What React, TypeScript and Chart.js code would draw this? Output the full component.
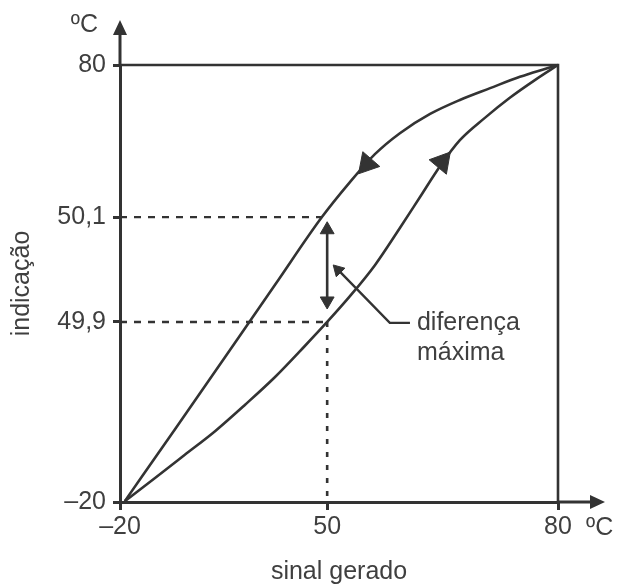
import { useEffect, useRef } from 'react';
import { Chart, registerables } from 'chart.js';

Chart.register(...registerables);

// Axis ticks (schematic positions, real labels)
const xTickValues = [-20, 27.3, 80];
const xTickLabels = ['–20', '50', '80'];
const yTickValues = [-20, 21.2, 45.2, 80];
const yTickLabels = ['–20', '49,9', '50,1', '80'];

// Descending branch (upper curve, returning from 80)
const returnX = [-18.9, -7.4, 4.0, 15.4, 26.1, 32.5, 38.2, 43.9, 50.8, 57.6, 64.5, 71.3, 77.0, 80];
const returnY = [-19.8, -3.3, 13.2, 29.7, 45.2, 53.2, 59.6, 64.4, 68.8, 72.0, 74.7, 77.3, 79.1, 80];

// Ascending branch (lower curve)
const riseX = [-18.9, -12.0, -5.2, 1.7, 8.5, 15.4, 22.2, 27.3, 32.5, 38.2, 43.9, 48.5, 53.1, 57.6, 63.3, 69.0, 74.8, 80];
const riseY = [-19.8, -14.5, -9.2, -3.8, 2.2, 8.6, 15.7, 21.2, 27.1, 34.2, 42.7, 49.8, 56.9, 62.8, 67.9, 72.5, 76.6, 80];

// Direction arrows on the curves
const curveArrowX = [36.4, 53.5];
const curveArrowY = [57.35, 57.8];
const curveArrowRotation = [221, 40];

// Range frame (top line at 80 and right line at 80)
const frameX = [-20, 80, 80];
const frameY = [80, 80, -20];

// Reference guides
const guide501X = [-20, 26.1];
const guide501Y = [45.2, 45.2];
const guide499X = [-20, 27.3];
const guide499Y = [21.2, 21.2];
const guide50X = [27.3, 27.3];
const guide50Y = [21.2, -20];

// Maximum-difference double arrow
const diffArrowX = [27.3, 27.3];
const diffArrowY = [42.3, 26.0];

// Leader for the note
const leaderX = [29.8, 41.6, 46.2];
const leaderY = [33.1, 21.0, 21.0];
const noteLines = ['diferença', 'máxima'];
const noteX = 47.8;
const noteY = [21.0, 14.1];

const ink = '#333333';
const textInk = '#3f3f3f';
const fontFamily = '"Liberation Sans", Arial, Helvetica, sans-serif';
const fontSize = 25;

const pts = (xs: number[], ys: number[]) => xs.map((x, i) => ({ x, y: ys[i] }));

const decorPlugin = {
  id: 'decor',
  afterDraw(chart: any) {
    const { ctx, chartArea: a, scales } = chart;
    const xs = scales.x;
    const ys = scales.y;
    ctx.save();
    ctx.strokeStyle = ink;
    ctx.fillStyle = ink;
    ctx.lineWidth = 3;
    // y axis extension + arrowhead
    ctx.beginPath();
    ctx.moveTo(a.left, a.top);
    ctx.lineTo(a.left, a.top - 32);
    ctx.stroke();
    ctx.beginPath();
    ctx.moveTo(a.left, a.top - 45);
    ctx.lineTo(a.left - 7, a.top - 30);
    ctx.lineTo(a.left + 7, a.top - 30);
    ctx.closePath();
    ctx.fill();
    // x axis extension + arrowhead
    ctx.beginPath();
    ctx.moveTo(a.right, a.bottom);
    ctx.lineTo(a.right + 34, a.bottom);
    ctx.stroke();
    ctx.beginPath();
    ctx.moveTo(a.right + 47, a.bottom);
    ctx.lineTo(a.right + 32, a.bottom - 7);
    ctx.lineTo(a.right + 32, a.bottom + 7);
    ctx.closePath();
    ctx.fill();
    // unit labels
    ctx.fillStyle = textInk;
    ctx.font = `${fontSize}px ${fontFamily}`;
    ctx.textBaseline = 'middle';
    ctx.textAlign = 'right';
    ctx.fillText('ºC', a.left - 22, a.top - 40);
    ctx.textAlign = 'left';
    ctx.fillText('ºC', a.right + 28, a.bottom + 26);
    // note text
    noteLines.forEach((t, i) => {
      ctx.fillText(t, xs.getPixelForValue(noteX), ys.getPixelForValue(noteY[i]));
    });
    ctx.restore();
  },
};

export default function App() {
  const ref = useRef<HTMLCanvasElement | null>(null);

  useEffect(() => {
    if (!ref.current) return;
    const lineBase = {
      borderColor: ink,
      backgroundColor: ink,
      pointRadius: 0,
      pointHoverRadius: 0,
      fill: false,
      clip: false as const,
      tension: 0,
    };
    const chart = new Chart(ref.current, {
      type: 'line',
      data: {
        datasets: [
          {
            ...lineBase,
            label: 'retorno',
            data: pts(returnX, returnY),
            borderWidth: 2.6,
            cubicInterpolationMode: 'monotone',
          },
          {
            ...lineBase,
            label: 'ida',
            data: pts(riseX, riseY),
            borderWidth: 2.6,
            cubicInterpolationMode: 'monotone',
          },
          {
            ...lineBase,
            label: 'setas',
            data: pts(curveArrowX, curveArrowY),
            showLine: false,
            pointStyle: 'triangle',
            pointRadius: 13,
            pointHoverRadius: 13,
            pointRotation: curveArrowRotation,
            pointBackgroundColor: ink,
            pointBorderColor: ink,
            pointBorderWidth: 1,
          },
          {
            ...lineBase,
            label: 'limite',
            data: pts(frameX, frameY),
            borderWidth: 2.6,
          },
          {
            ...lineBase,
            label: '50,1',
            data: pts(guide501X, guide501Y),
            borderWidth: 2.4,
            borderDash: [7, 7],
          },
          {
            ...lineBase,
            label: '49,9',
            data: pts(guide499X, guide499Y),
            borderWidth: 2.4,
            borderDash: [7, 7],
          },
          {
            ...lineBase,
            label: '50',
            data: pts(guide50X, guide50Y),
            borderWidth: 2.6,
            borderDash: [5, 8],
          },
          {
            ...lineBase,
            label: 'diferença',
            data: pts(diffArrowX, diffArrowY),
            borderWidth: 2.6,
            pointStyle: 'triangle',
            pointRadius: 8,
            pointHoverRadius: 8,
            pointRotation: [0, 180],
            pointBackgroundColor: ink,
            pointBorderColor: ink,
            pointBorderWidth: 1,
          },
          {
            ...lineBase,
            label: 'indicador',
            data: pts(leaderX, leaderY),
            borderWidth: 2.4,
            pointStyle: 'triangle',
            pointRadius: [7, 0, 0],
            pointHoverRadius: [7, 0, 0],
            pointRotation: [315.5, 0, 0],
            pointBackgroundColor: ink,
            pointBorderColor: ink,
            pointBorderWidth: 1,
          },
        ] as any,
      },
      options: {
        animation: false,
        responsive: true,
        maintainAspectRatio: false,
        events: [],
        layout: { padding: { top: 65, right: 65, left: 0, bottom: 0 } },
        plugins: {
          legend: { display: false },
          tooltip: { enabled: false },
        },
        scales: {
          x: {
            type: 'linear',
            min: -20,
            max: 80,
            afterBuildTicks: (s: any) => {
              s.ticks = xTickValues.map((v) => ({ value: v }));
            },
            afterFit: (s: any) => {
              s.height = 83;
            },
            ticks: {
              autoSkip: false,
              maxRotation: 0,
              padding: 2,
              color: textInk,
              font: { family: fontFamily, size: fontSize },
              callback: (_v: any, i: number) => xTickLabels[i],
            },
            grid: {
              drawOnChartArea: false,
              drawTicks: true,
              tickLength: 8,
              color: ink,
              lineWidth: 3,
            },
            border: { display: true, color: ink, width: 3 },
            title: {
              display: true,
              text: 'sinal gerado',
              color: textInk,
              font: { family: fontFamily, size: fontSize, lineHeight: 1 },
              padding: { top: 0, bottom: 0 },
            },
          },
          y: {
            type: 'linear',
            min: -20,
            max: 80,
            afterBuildTicks: (s: any) => {
              s.ticks = yTickValues.map((v) => ({ value: v }));
            },
            afterFit: (s: any) => {
              s.width = 120;
            },
            ticks: {
              autoSkip: false,
              padding: 7,
              color: textInk,
              font: { family: fontFamily, size: fontSize },
              callback: (_v: any, i: number) => yTickLabels[i],
            },
            grid: {
              drawOnChartArea: false,
              drawTicks: true,
              tickLength: 7,
              color: ink,
              lineWidth: 3,
            },
            border: { display: true, color: ink, width: 3 },
            title: {
              display: true,
              text: 'indicação',
              color: textInk,
              font: { family: fontFamily, size: fontSize, lineHeight: 1 },
              padding: { top: 10, bottom: 0 },
            },
          },
        },
      } as any,
      plugins: [decorPlugin],
    });
    return () => chart.destroy();
  }, []);

  return (
    <div style={{ position: 'absolute', left: 0, top: 0, width: 623, height: 585 }}>
      <canvas ref={ref} />
    </div>
  );
}
